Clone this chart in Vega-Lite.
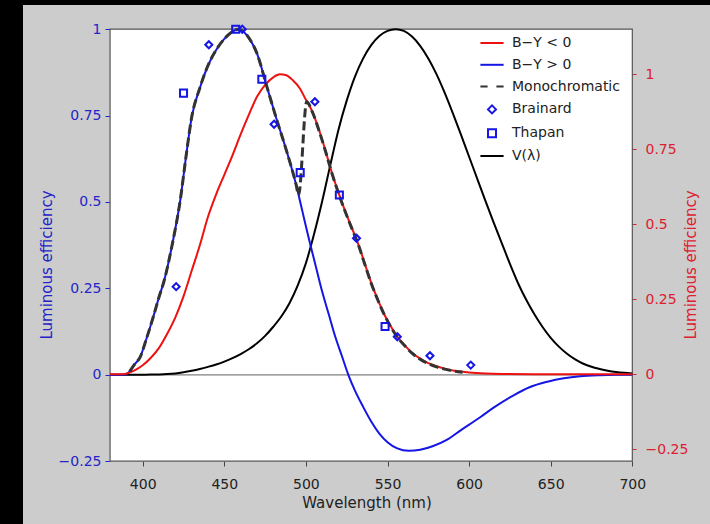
{
  "$schema": "https://vega.github.io/schema/vega-lite/v6.json",
  "width": 687,
  "height": 519,
  "autosize": {"type": "none"},
  "padding": {"left": 23, "top": 5, "right": 0, "bottom": 0},
  "background": "#000000",
  "config": {
    "view": {"fill": "#cccccc", "stroke": null},
    "font": "DejaVu Sans",
    "axis": {"grid": false, "domain": false, "labelFont": "DejaVu Sans", "titleFont": "DejaVu Sans", "labelOverlap": false, "labelFlush": false}
  },
  "datasets": {
    "frame": [{"wl": 380, "wl2": 700, "v": -0.25, "v2": 1}],
    "zero": [{"wl": 380, "wl2": 700, "v": 0}],
    "vlam": [
      {"wl": 380, "v": 0.00004}, {"wl": 385, "v": 0.00006}, {"wl": 390, "v": 0.00012}, {"wl": 395, "v": 0.00022},
      {"wl": 400, "v": 0.0004}, {"wl": 405, "v": 0.00064}, {"wl": 410, "v": 0.0012}, {"wl": 415, "v": 0.0022},
      {"wl": 420, "v": 0.004}, {"wl": 425, "v": 0.0073}, {"wl": 430, "v": 0.0116}, {"wl": 435, "v": 0.0168},
      {"wl": 440, "v": 0.023}, {"wl": 445, "v": 0.0298}, {"wl": 450, "v": 0.038}, {"wl": 455, "v": 0.048},
      {"wl": 460, "v": 0.06}, {"wl": 465, "v": 0.0739}, {"wl": 470, "v": 0.091}, {"wl": 475, "v": 0.1126},
      {"wl": 480, "v": 0.139}, {"wl": 485, "v": 0.1693}, {"wl": 490, "v": 0.208}, {"wl": 495, "v": 0.2586},
      {"wl": 500, "v": 0.323}, {"wl": 505, "v": 0.4073}, {"wl": 510, "v": 0.503}, {"wl": 515, "v": 0.6082},
      {"wl": 520, "v": 0.71}, {"wl": 525, "v": 0.7932}, {"wl": 530, "v": 0.862}, {"wl": 535, "v": 0.9149},
      {"wl": 540, "v": 0.954}, {"wl": 545, "v": 0.9803}, {"wl": 550, "v": 0.995}, {"wl": 555, "v": 1.0},
      {"wl": 560, "v": 0.995}, {"wl": 565, "v": 0.9786}, {"wl": 570, "v": 0.952}, {"wl": 575, "v": 0.9154},
      {"wl": 580, "v": 0.87}, {"wl": 585, "v": 0.8163}, {"wl": 590, "v": 0.757}, {"wl": 595, "v": 0.6949},
      {"wl": 600, "v": 0.631}, {"wl": 605, "v": 0.5668}, {"wl": 610, "v": 0.503}, {"wl": 615, "v": 0.4412},
      {"wl": 620, "v": 0.381}, {"wl": 625, "v": 0.321}, {"wl": 630, "v": 0.265}, {"wl": 635, "v": 0.217},
      {"wl": 640, "v": 0.175}, {"wl": 645, "v": 0.1382}, {"wl": 650, "v": 0.107}, {"wl": 655, "v": 0.0816},
      {"wl": 660, "v": 0.061}, {"wl": 665, "v": 0.0446}, {"wl": 670, "v": 0.032}, {"wl": 675, "v": 0.0232},
      {"wl": 680, "v": 0.017}, {"wl": 685, "v": 0.0119}, {"wl": 690, "v": 0.0082}, {"wl": 695, "v": 0.0057},
      {"wl": 700, "v": 0.0041}
    ],
    "blue": [
      {"wl": 380, "v": 0}, {"wl": 388, "v": 0}, {"wl": 391, "v": 0.005}, {"wl": 395, "v": 0.03},
      {"wl": 398.5, "v": 0.052}, {"wl": 402, "v": 0.1}, {"wl": 406.5, "v": 0.168}, {"wl": 410, "v": 0.225},
      {"wl": 413, "v": 0.27}, {"wl": 418, "v": 0.375}, {"wl": 423, "v": 0.505}, {"wl": 426.5, "v": 0.63},
      {"wl": 430, "v": 0.745}, {"wl": 435, "v": 0.83}, {"wl": 440, "v": 0.895}, {"wl": 445, "v": 0.94},
      {"wl": 450, "v": 0.972}, {"wl": 455, "v": 0.993}, {"wl": 458.5, "v": 1.0}, {"wl": 462, "v": 0.992},
      {"wl": 466, "v": 0.968}, {"wl": 470, "v": 0.93}, {"wl": 476, "v": 0.835}, {"wl": 482, "v": 0.74},
      {"wl": 488, "v": 0.65}, {"wl": 494, "v": 0.55}, {"wl": 498, "v": 0.47}, {"wl": 502, "v": 0.39},
      {"wl": 506, "v": 0.315}, {"wl": 510, "v": 0.24}, {"wl": 514, "v": 0.175}, {"wl": 518, "v": 0.11},
      {"wl": 522, "v": 0.055}, {"wl": 526, "v": 0}, {"wl": 530, "v": -0.045}, {"wl": 535, "v": -0.092},
      {"wl": 540, "v": -0.135}, {"wl": 545, "v": -0.17}, {"wl": 550, "v": -0.195}, {"wl": 556, "v": -0.213},
      {"wl": 563, "v": -0.22}, {"wl": 570, "v": -0.217}, {"wl": 578, "v": -0.206}, {"wl": 586, "v": -0.189},
      {"wl": 595, "v": -0.16}, {"wl": 607, "v": -0.122}, {"wl": 615, "v": -0.095}, {"wl": 627, "v": -0.06},
      {"wl": 637, "v": -0.036}, {"wl": 648, "v": -0.02}, {"wl": 658, "v": -0.01}, {"wl": 668, "v": -0.004},
      {"wl": 680, "v": -0.001}, {"wl": 690, "v": 0}, {"wl": 700, "v": 0}
    ],
    "red": [
      {"wl": 380, "v": 0}, {"wl": 388, "v": 0}, {"wl": 391, "v": 0.004}, {"wl": 395, "v": 0.013},
      {"wl": 400, "v": 0.03}, {"wl": 405, "v": 0.055}, {"wl": 410, "v": 0.088}, {"wl": 415, "v": 0.135},
      {"wl": 420, "v": 0.19}, {"wl": 425, "v": 0.26}, {"wl": 430, "v": 0.345}, {"wl": 435, "v": 0.43},
      {"wl": 440, "v": 0.525}, {"wl": 445, "v": 0.6}, {"wl": 450, "v": 0.665}, {"wl": 455, "v": 0.73},
      {"wl": 460, "v": 0.8}, {"wl": 465, "v": 0.865}, {"wl": 470, "v": 0.925}, {"wl": 475, "v": 0.965},
      {"wl": 480, "v": 0.99}, {"wl": 484, "v": 1.0}, {"wl": 488, "v": 0.997}, {"wl": 492, "v": 0.98},
      {"wl": 496, "v": 0.955}, {"wl": 500, "v": 0.915}, {"wl": 504, "v": 0.875}, {"wl": 508, "v": 0.815},
      {"wl": 512, "v": 0.745}, {"wl": 516, "v": 0.67}, {"wl": 520, "v": 0.605}, {"wl": 524, "v": 0.545},
      {"wl": 528, "v": 0.49}, {"wl": 532, "v": 0.435}, {"wl": 536, "v": 0.37}, {"wl": 540, "v": 0.305},
      {"wl": 544, "v": 0.25}, {"wl": 548, "v": 0.2}, {"wl": 552, "v": 0.16}, {"wl": 556, "v": 0.125},
      {"wl": 560, "v": 0.1}, {"wl": 565, "v": 0.072}, {"wl": 570, "v": 0.052}, {"wl": 575, "v": 0.037},
      {"wl": 580, "v": 0.027}, {"wl": 585, "v": 0.019}, {"wl": 590, "v": 0.013}, {"wl": 595, "v": 0.009},
      {"wl": 600, "v": 0.006}, {"wl": 610, "v": 0.0025}, {"wl": 620, "v": 0.001}, {"wl": 640, "v": 0.0002},
      {"wl": 660, "v": 0}, {"wl": 700, "v": 0}
    ],
    "mono": [
      {"wl": 392, "v": 0.01}, {"wl": 395, "v": 0.03}, {"wl": 398.5, "v": 0.052}, {"wl": 402, "v": 0.1},
      {"wl": 406.5, "v": 0.168}, {"wl": 410, "v": 0.225}, {"wl": 413, "v": 0.27}, {"wl": 418, "v": 0.375},
      {"wl": 423, "v": 0.505}, {"wl": 426.5, "v": 0.63}, {"wl": 430, "v": 0.745}, {"wl": 435, "v": 0.83},
      {"wl": 440, "v": 0.895}, {"wl": 445, "v": 0.94}, {"wl": 450, "v": 0.972}, {"wl": 455, "v": 0.993},
      {"wl": 458.5, "v": 1.0}, {"wl": 462, "v": 0.992}, {"wl": 466, "v": 0.968}, {"wl": 470, "v": 0.93},
      {"wl": 476, "v": 0.835}, {"wl": 482, "v": 0.74}, {"wl": 488, "v": 0.65}, {"wl": 494, "v": 0.55},
      {"wl": 495.5, "v": 0.52}, {"wl": 500.5, "v": 0.79}, {"wl": 504, "v": 0.76}, {"wl": 508, "v": 0.707},
      {"wl": 512, "v": 0.647}, {"wl": 516, "v": 0.582}, {"wl": 520, "v": 0.525}, {"wl": 524, "v": 0.473},
      {"wl": 528, "v": 0.425}, {"wl": 532, "v": 0.378}, {"wl": 536, "v": 0.321}, {"wl": 540, "v": 0.265},
      {"wl": 544, "v": 0.217}, {"wl": 548, "v": 0.174}, {"wl": 552, "v": 0.139}, {"wl": 556, "v": 0.109},
      {"wl": 560, "v": 0.087}, {"wl": 565, "v": 0.0625}, {"wl": 570, "v": 0.045}, {"wl": 575, "v": 0.032},
      {"wl": 580, "v": 0.023}, {"wl": 585, "v": 0.0165}, {"wl": 590, "v": 0.0113}, {"wl": 596, "v": 0.0074}
    ],
    "pts": [
      {"s": "Brainard", "wl": 420.5, "v": 0.255}, {"s": "Brainard", "wl": 440.5, "v": 0.955},
      {"s": "Brainard", "wl": 461, "v": 1.0}, {"s": "Brainard", "wl": 480.5, "v": 0.725},
      {"s": "Brainard", "wl": 505.5, "v": 0.79}, {"s": "Brainard", "wl": 531, "v": 0.395},
      {"s": "Brainard", "wl": 556, "v": 0.11}, {"s": "Brainard", "wl": 576, "v": 0.055},
      {"s": "Brainard", "wl": 601, "v": 0.028},
      {"s": "Thapan", "wl": 425, "v": 0.815}, {"s": "Thapan", "wl": 457, "v": 1.0},
      {"s": "Thapan", "wl": 473, "v": 0.855}, {"s": "Thapan", "wl": 496.5, "v": 0.585},
      {"s": "Thapan", "wl": 520.5, "v": 0.52}, {"s": "Thapan", "wl": 548.5, "v": 0.14}
    ]
  },
  "encoding": {
    "x": {
      "field": "wl", "type": "quantitative",
      "scale": {"domain": [326.65, 747.6], "nice": false, "zero": false},
      "axis": {
        "values": [400, 450, 500, 550, 600, 650, 700], "offset": -63, "domain": false,
        "tickColor": "#444444", "tickSize": 5, "tickWidth": 1,
        "labelFontSize": 14, "labelColor": "#222222", "labelPadding": 11,
        "title": "Wavelength (nm)", "titleFontSize": 15, "titleFontWeight": "normal", "titleColor": "#222222", "titlePadding": 4
      }
    }
  },
  "layer": [
    {
      "encoding": {
        "y": {
          "field": "v", "type": "quantitative",
          "scale": {"domain": [-0.4317, 1.07], "nice": false, "zero": false},
          "axis": {
            "orient": "left", "values": [-0.25, 0, 0.25, 0.5, 0.75, 1], "offset": -87, "domain": false,
            "tickColor": "#2222cc", "tickSize": 5, "labelPadding": 4, "labelFontSize": 14, "labelColor": "#2424c8",
            "labelExpr": "replace(format(datum.value, '~g'), '-', '\u2212')",
            "title": "Luminous efficiency", "titleFontSize": 15, "titleFontWeight": "normal", "titleColor": "#2424c8", "titlePadding": 4
          }
        }
      },
      "layer": [
        {"data": {"name": "frame"}, "mark": {"type": "rect", "fill": "#ffffff", "stroke": "#555555", "strokeWidth": 1.2}, "encoding": {"x2": {"field": "wl2"}, "y2": {"field": "v2"}}},
        {"data": {"name": "zero"}, "mark": {"type": "rule", "color": "#808080", "strokeWidth": 1.3}, "encoding": {"x2": {"field": "wl2"}}},
        {"data": {"name": "vlam"}, "mark": {"type": "line", "color": "#000000", "strokeWidth": 2, "interpolate": "monotone"}, "encoding": {}},
        {"data": {"name": "blue"}, "mark": {"type": "line", "color": "#1515e6", "strokeWidth": 2, "interpolate": "monotone"}, "encoding": {}}
      ]
    },
    {
      "data": {"name": "red"},
      "mark": {"type": "line", "color": "#ee1111", "strokeWidth": 2, "interpolate": "monotone"},
      "encoding": {
        "y": {
          "field": "v", "type": "quantitative",
          "scale": {"domain": [-0.499, 1.231], "nice": false, "zero": false},
          "axis": {
            "orient": "right", "values": [-0.25, 0, 0.25, 0.5, 0.75, 1], "offset": -78, "domain": false,
            "tickColor": "#dd2030", "tickSize": 4, "labelPadding": 9, "labelFontSize": 14, "labelColor": "#dd2030",
            "labelExpr": "replace(format(datum.value, '~g'), '-', '\u2212')",
            "title": "Luminous efficiency", "titleFontSize": 15, "titleFontWeight": "normal", "titleColor": "#dd2030",
            "titleAngle": 270, "titleBaseline": "top", "titlePadding": -4
          }
        }
      }
    },
    {
      "encoding": {
        "y": {
          "field": "v", "type": "quantitative",
          "scale": {"domain": [-0.4317, 1.07], "nice": false, "zero": false},
          "axis": null
        }
      },
      "layer": [
        {"data": {"name": "mono"}, "mark": {"type": "line", "color": "#333333", "strokeWidth": 3, "strokeDash": [9, 4], "interpolate": "monotone"}, "encoding": {}},
        {
          "data": {"name": "pts"},
          "mark": {"type": "point", "filled": false, "strokeWidth": 2, "size": 50, "opacity": 1},
          "encoding": {
            "color": {
              "field": "s", "type": "nominal",
              "scale": {"domain": ["B\u2212Y < 0", "B\u2212Y > 0", "Monochromatic", "Brainard", "Thapan", "V(\u03bb)"], "range": ["#ee1111", "#1515e6", "#333333", "#1515e6", "#1515e6", "#000000"]},
              "legend": {
                "orient": "none", "legendX": 462, "legendY": 31, "title": null,
                "labelFontSize": 14, "labelColor": "#222222", "labelFont": "DejaVu Sans",
                "symbolSize": 64, "symbolStrokeWidth": 2, "symbolOpacity": 1, "rowPadding": 7.8, "labelOffset": 13, "padding": 0,
                "encode": {"symbols": {"update": {"fill": {"value": "transparent"}, "strokeWidth": {"signal": "datum.value === 'Monochromatic' ? 3.5 : 2"}}}}
              }
            },
            "shape": {
              "field": "s", "type": "nominal",
              "scale": {"domain": ["B\u2212Y < 0", "B\u2212Y > 0", "Monochromatic", "Brainard", "Thapan", "V(\u03bb)"], "range": ["M-2.9,0H2.9", "M-2.9,0H2.9", "M-2.9,0H-1.1M1.1,0H2.9", "diamond", "square", "M-2.9,0H2.9"]},
              "legend": {
                "orient": "none", "legendX": 462, "legendY": 31, "title": null,
                "labelFontSize": 14, "labelColor": "#222222", "labelFont": "DejaVu Sans",
                "symbolSize": 64, "symbolStrokeWidth": 2, "symbolOpacity": 1, "rowPadding": 7.8, "labelOffset": 13, "padding": 0,
                "encode": {"symbols": {"update": {"fill": {"value": "transparent"}, "strokeWidth": {"signal": "datum.value === 'Monochromatic' ? 3.5 : 2"}}}}
              }
            }
          }
        }
      ]
    }
  ],
  "resolve": {"scale": {"y": "independent"}}
}
